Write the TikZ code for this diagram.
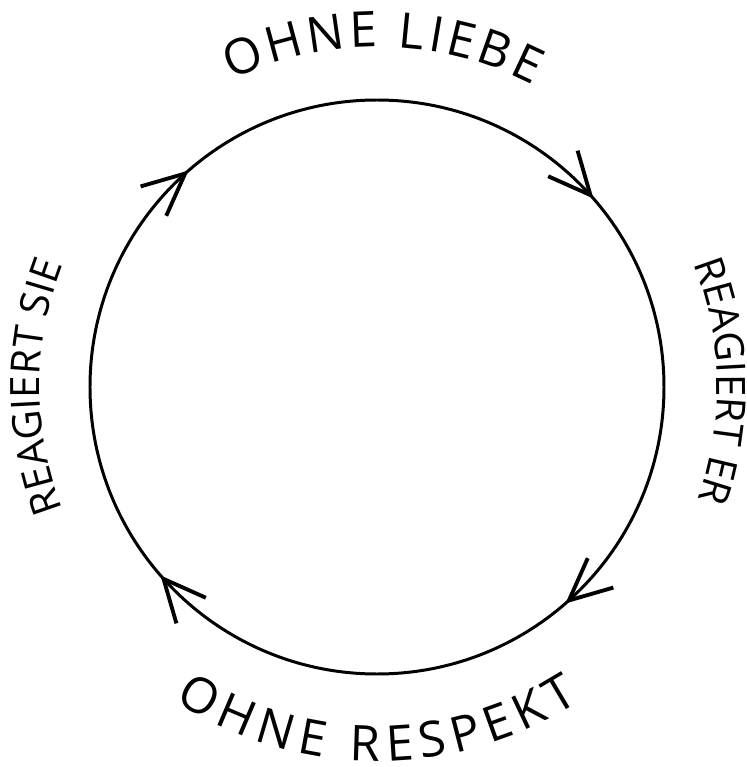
\documentclass[tikz,border=0pt]{standalone}
\usepackage{fontspec}
\setmainfont{Open Sans}
\usepackage{tikz}
\usetikzlibrary{calc}
\usetikzlibrary{arrows.meta}
\usetikzlibrary{decorations.markings}
\usetikzlibrary{decorations.text}
\newcommand\topfont{\fontsize{14}{16}\selectfont}
\newcommand\sidefont{\fontsize{11.5}{13}\selectfont}

\begin{document}
\begin{tikzpicture}[
    cyc/.style={line width=0.85pt},
    cyctip/.tip={Straight Barb[length=4.2mm, width=3.9mm, line width=1.1pt]},
    ]
    \useasboundingbox (0,0) rectangle (7.47,7.67);
    \coordinate (c) at (3.77,3.80);
    % the circle, drawn clockwise
    \draw[cyc, postaction={decorate}, decoration={markings,
        mark=between positions 0.136 and 0.9 step 0.25 with {\arrow{cyctip}}}]
        (c) ++(0:2.87) arc[start angle=0, end angle=-360, radius=2.87];
    \foreach[count=\i] \lbl/\fnt/\sp/\r/\sa/\ea in {OHNE LIEBE/\topfont/0.55pt/3.40/179/-1,
        REAGIERT ER/\sidefont/0pt/3.40/61/-59, OHNE RESPEKT/\topfont/1pt/3.74/200/340,
        REAGIERT SIE/\sidefont/0pt/3.37/240/120} {
        \path[decorate, decoration={text effects along path, text/.expanded=\lbl,
            text align=center, text effects/.cd, text along path,
            characters={font=\fnt, inner xsep=\sp},
            character widths={font=\fnt, inner xsep=\sp}}]
            (c) ++(\sa:\r) arc[start angle=\sa, end angle=\ea, radius=\r];
    }
\end{tikzpicture}
\end{document}
